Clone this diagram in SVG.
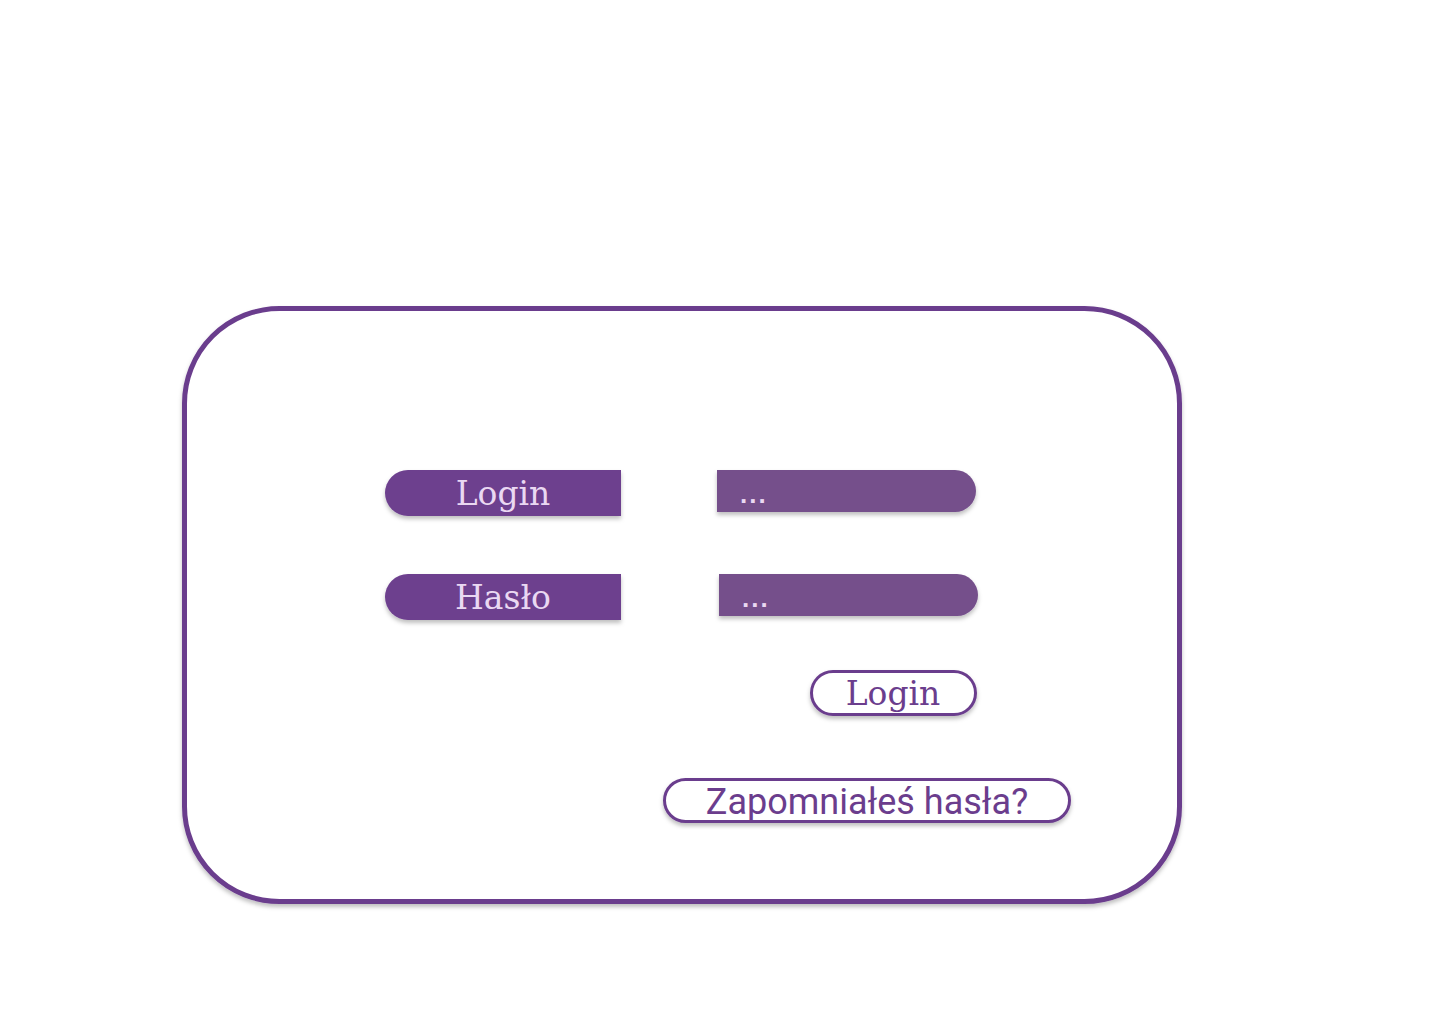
<svg xmlns="http://www.w3.org/2000/svg" width="1439" height="1024" viewBox="0 0 1439 1024">
<defs>
<style>
.lbl{fill:#6d3f8e}
.inp{fill:#744f8b}
.lt{font-family:"DejaVu Serif","Liberation Serif",serif;font-size:33px;fill:#ead8f2;text-anchor:middle}
.dots{font-family:"Liberation Sans",sans-serif;font-size:26px;font-weight:bold;fill:#ead8f2;letter-spacing:2px}
.btn{fill:#fff;stroke:#6b3d8d;stroke-width:3}
</style>
<filter id="sh" x="-10%" y="-10%" width="120%" height="130%">
<feDropShadow dx="0" dy="3" stdDeviation="2" flood-color="#000" flood-opacity="0.25"/>
</filter>
</defs>
<g id="frame">
<rect x="184.5" y="308.5" width="995" height="593" rx="95" ry="95" fill="#fff" stroke="#6b3d8d" stroke-width="5" filter="url(#sh)"/>
</g>
<g id="label-login">
<path class="lbl" d="M408 470 H621 V516 H408 A23 23 0 0 1 408 470 Z" filter="url(#sh)"/>
<text class="lt" x="503" y="505">Login</text>
</g>
<g id="label-haslo">
<path class="lbl" d="M408 574 H621 V620 H408 A23 23 0 0 1 408 574 Z" filter="url(#sh)"/>
<text class="lt" x="503" y="609">Hasło</text>
</g>
<g id="input-login">
<path class="inp" d="M717 470 H955 A21 21 0 0 1 955 512 H717 Z" filter="url(#sh)"/>
<text class="dots" x="740" y="503">...</text>
</g>
<g id="input-haslo">
<path class="inp" d="M719 574 H957 A21 21 0 0 1 957 616 H719 Z" filter="url(#sh)"/>
<text class="dots" x="742" y="607">...</text>
</g>
<g id="btn-login">
<rect class="btn" x="811.5" y="671.5" width="164" height="43" rx="21.5" filter="url(#sh)"/>
<text x="893" y="705" font-family="DejaVu Serif, Liberation Serif, serif" font-size="33" fill="#6b3d8d" text-anchor="middle">Login</text>
</g>
<g id="btn-forgot">
<rect class="btn" x="664.5" y="779.5" width="405" height="42" rx="21" filter="url(#sh)"/>
<text x="867" y="814" font-family="Roboto, sans-serif" font-size="36" fill="#6b3d8d" text-anchor="middle">Zapomniałeś hasła?</text>
</g>
<g id="connectors"/>
</svg>
